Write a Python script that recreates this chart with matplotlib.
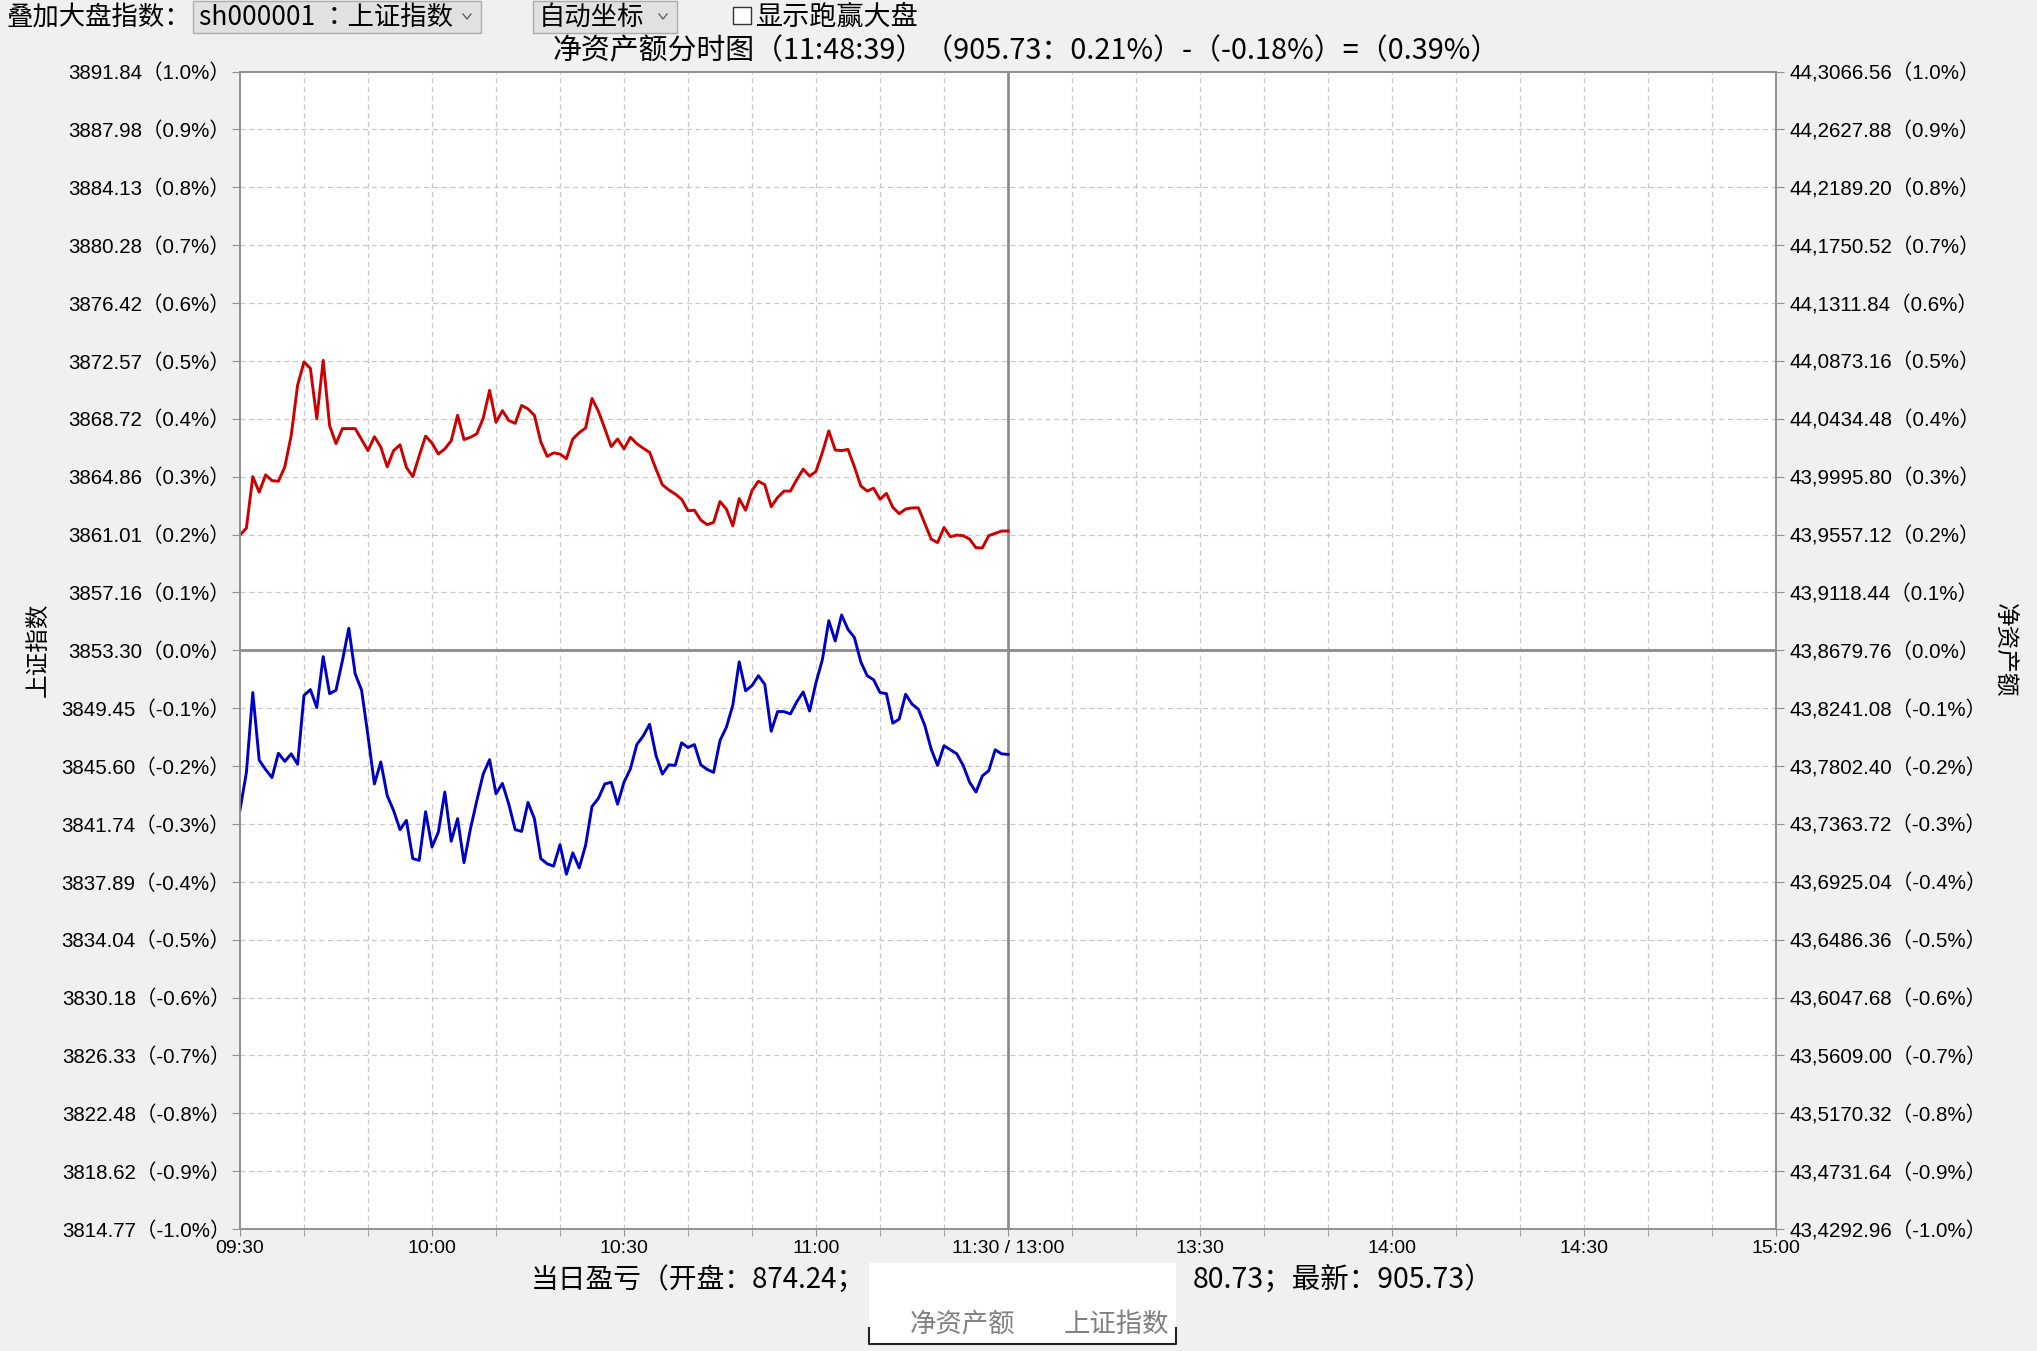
import numpy as np
import matplotlib.pyplot as plt
from matplotlib.patches import Rectangle
from matplotlib.lines import Line2D

plt.rcParams['font.family'] = ['Liberation Sans', 'Noto Sans CJK SC']
CJK = ['Noto Sans CJK SC', 'DejaVu Sans']

# per-minute change (%) from 09:30 to 11:30
net_pct = [0.199, 0.211, 0.300, 0.273, 0.303, 0.293, 0.292, 0.317, 0.371, 0.458,
           0.498, 0.487, 0.400, 0.501, 0.388, 0.357, 0.383, 0.383, 0.383, 0.364,
           0.345, 0.369, 0.351, 0.317, 0.345, 0.355, 0.316, 0.300, 0.336, 0.370,
           0.358, 0.339, 0.348, 0.362, 0.406, 0.364, 0.368, 0.374, 0.401, 0.449,
           0.394, 0.414, 0.397, 0.392, 0.423, 0.417, 0.406, 0.360, 0.335, 0.341,
           0.339, 0.331, 0.365, 0.376, 0.384, 0.435, 0.413, 0.383, 0.352, 0.365,
           0.348, 0.368, 0.357, 0.349, 0.342, 0.313, 0.286, 0.277, 0.270, 0.261,
           0.241, 0.242, 0.225, 0.217, 0.221, 0.257, 0.244, 0.215, 0.262, 0.242,
           0.276, 0.292, 0.286, 0.248, 0.264, 0.275, 0.275, 0.295, 0.313, 0.301,
           0.309, 0.342, 0.379, 0.346, 0.345, 0.347, 0.317, 0.284, 0.275, 0.280,
           0.261, 0.271, 0.247, 0.236, 0.244, 0.246, 0.246, 0.219, 0.192, 0.186,
           0.212, 0.196, 0.199, 0.198, 0.192, 0.177, 0.177, 0.198, 0.202, 0.206,
           0.206]

index_pct = [-0.276, -0.211, -0.073, -0.190, -0.206, -0.220, -0.178, -0.192, -0.179, -0.197,
             -0.078, -0.068, -0.099, -0.011, -0.075, -0.069, -0.018, 0.038, -0.041, -0.069,
             -0.148, -0.231, -0.193, -0.251, -0.277, -0.310, -0.294, -0.360, -0.363, -0.279,
             -0.340, -0.314, -0.245, -0.330, -0.291, -0.367, -0.309, -0.260, -0.214, -0.189,
             -0.248, -0.230, -0.266, -0.310, -0.313, -0.263, -0.291, -0.360, -0.369, -0.373,
             -0.336, -0.387, -0.350, -0.376, -0.337, -0.270, -0.256, -0.231, -0.228, -0.266,
             -0.228, -0.205, -0.163, -0.148, -0.128, -0.182, -0.214, -0.198, -0.199, -0.160,
             -0.168, -0.163, -0.198, -0.206, -0.211, -0.156, -0.133, -0.095, -0.020, -0.070,
             -0.061, -0.044, -0.059, -0.140, -0.106, -0.106, -0.110, -0.089, -0.072, -0.105,
             -0.056, -0.016, 0.051, 0.016, 0.061, 0.036, 0.022, -0.020, -0.044, -0.051,
             -0.073, -0.075, -0.126, -0.119, -0.076, -0.093, -0.102, -0.130, -0.171, -0.199,
             -0.165, -0.172, -0.179, -0.199, -0.228, -0.245, -0.217, -0.208, -0.172, -0.179,
             -0.180]

pct_ticks = [1.0, 0.9, 0.8, 0.7, 0.6, 0.5, 0.4, 0.3, 0.2, 0.1, 0.0,
             -0.1, -0.2, -0.3, -0.4, -0.5, -0.6, -0.7, -0.8, -0.9, -1.0]
left_values = ['3891.84', '3887.98', '3884.13', '3880.28', '3876.42', '3872.57', '3868.72',
               '3864.86', '3861.01', '3857.16', '3853.30', '3849.45', '3845.60', '3841.74',
               '3837.89', '3834.04', '3830.18', '3826.33', '3822.48', '3818.62', '3814.77']
right_values = ['44,3066.56', '44,2627.88', '44,2189.20', '44,1750.52', '44,1311.84',
                '44,0873.16', '44,0434.48', '43,9995.80', '43,9557.12', '43,9118.44',
                '43,8679.76', '43,8241.08', '43,7802.40', '43,7363.72', '43,6925.04',
                '43,6486.36', '43,6047.68', '43,5609.00', '43,5170.32', '43,4731.64',
                '43,4292.96']
time_ticks = [0, 30, 60, 90, 120, 150, 180, 210, 240]
time_labels = ['09:30', '10:00', '10:30', '11:00', '11:30 / 13:00',
               '13:30', '14:00', '14:30', '15:00']

W, H = 2037, 1351


def fx(x):
    return x / W


def fy(y):
    return 1 - y / H


fig = plt.figure(figsize=(W / 100, H / 100), dpi=100, facecolor='#f0f0f0')
ax = fig.add_axes([fx(240), fy(1229), fx(1776) - fx(240), fy(71.5) - fy(1229)])
ax.set_facecolor('white')

minutes = np.arange(len(net_pct))
ax.set_xlim(0, 240)
ax.set_ylim(-1.0, 1.0)

grid_kw = dict(color='#c8c8c8', lw=0.9, ls=(0, (4, 3)), zorder=1)
for m in range(10, 240, 10):
    if m != 120:
        ax.axvline(m, **grid_kw)
for p in pct_ticks[1:-1]:
    if p != 0.0:
        ax.axhline(p, **grid_kw)
ax.axhline(0, color='#8c8c8c', lw=2, zorder=2)
ax.axvline(120, color='#8c8c8c', lw=2, zorder=2)

ax.plot(minutes, net_pct, color='#cc0000', lw=2.1, zorder=3)
ax.plot(minutes, index_pct, color='#0000c4', lw=2.1, zorder=3)

for s in ax.spines.values():
    s.set_color('#909090')
    s.set_linewidth(1.2)

ax.set_xticks(time_ticks)
ax.set_xticklabels(time_labels, fontsize=14)
ax.set_xticks(np.arange(0, 241, 10), minor=True)
ax.tick_params(axis='x', which='both', direction='out', length=5, color='#909090', pad=3)

ax.set_yticks(pct_ticks)
ax.set_yticklabels([f'{v}（{p:.1f}%）' for v, p in zip(left_values, pct_ticks)], fontsize=14.8)
ax.tick_params(axis='y', direction='out', length=6, color='#909090', pad=1)

ax2 = ax.twinx()
ax2.set_ylim(-1.0, 1.0)
ax2.set_yticks(pct_ticks)
ax2.set_yticklabels([f'{v}（{p:.1f}%）' for v, p in zip(right_values, pct_ticks)], fontsize=14.8)
ax2.tick_params(axis='y', direction='out', length=6, color='#909090', pad=4)
for s in ax2.spines.values():
    s.set_color('#909090')
    s.set_linewidth(1.2)

# axis names
fig.text(fx(38), fy(650), '上证指数', rotation=90, ha='center', va='center',
         fontsize=17, family=CJK)
fig.text(fx(2005), fy(650), '净资产额', rotation=-90, ha='center', va='center',
         fontsize=17, family=CJK)

# title
fig.text(fx(1026), fy(51), '净资产额分时图（11:48:39）（905.73：0.21%）-（-0.18%）=（0.39%）',
         ha='center', va='center', fontsize=20.8, family=CJK)

# top controls
fig.text(fx(6), fy(17), '叠加大盘指数：', ha='left', va='center', fontsize=19, family=CJK)
for x0, x1, label in [(193, 481, 'sh000001 ：上证指数'), (533, 677, '自动坐标')]:
    fig.patches.append(Rectangle((fx(x0), fy(33)), fx(x1) - fx(x0), fy(1) - fy(33),
                                 transform=fig.transFigure, facecolor='#e1e1e1',
                                 edgecolor='#adadad', lw=1))
    fig.text(fx(x0 + 6), fy(17), label, ha='left', va='center', fontsize=19,
             family=['Noto Sans CJK TC', 'DejaVu Sans'])
    cx = x1 - 14
    fig.lines.append(Line2D([fx(cx - 4), fx(cx), fx(cx + 4)], [fy(14), fy(19), fy(14)],
                            transform=fig.transFigure, color='#606060', lw=1))
fig.patches.append(Rectangle((fx(733), fy(24)), fx(751) - fx(733), fy(7) - fy(24),
                             transform=fig.transFigure, facecolor='white',
                             edgecolor='#333333', lw=1))
fig.text(fx(756), fy(17), '显示跑赢大盘', ha='left', va='center', fontsize=19.5, family=CJK)

# bottom summary line and the overlapping legend box
fig.text(fx(531), fy(1280), '当日盈亏（开盘：874.24；', ha='left', va='center',
         fontsize=20, family=CJK)
fig.text(fx(1493), fy(1280), '80.73；最新：905.73）', ha='right', va='center',
         fontsize=20.5, family=CJK)
fig.patches.append(Rectangle((fx(869), fy(1345)), fx(1176) - fx(869), fy(1263) - fy(1345),
                             transform=fig.transFigure, facecolor='white',
                             edgecolor='none', zorder=5))
fig.lines.append(Line2D([fx(869), fx(869), fx(1176), fx(1176)],
                        [fy(1328), fy(1344), fy(1344), fy(1328)],
                        transform=fig.transFigure, color='#222222', lw=1.5, zorder=6))
fig.text(fx(963), fy(1324), '净资产额', ha='center', va='center', fontsize=19,
         family=CJK, color='#808080', zorder=7)
fig.text(fx(1116), fy(1324), '上证指数', ha='center', va='center', fontsize=19,
         family=CJK, color='#808080', zorder=7)

fig.savefig('out.png', dpi=100, facecolor=fig.get_facecolor())
